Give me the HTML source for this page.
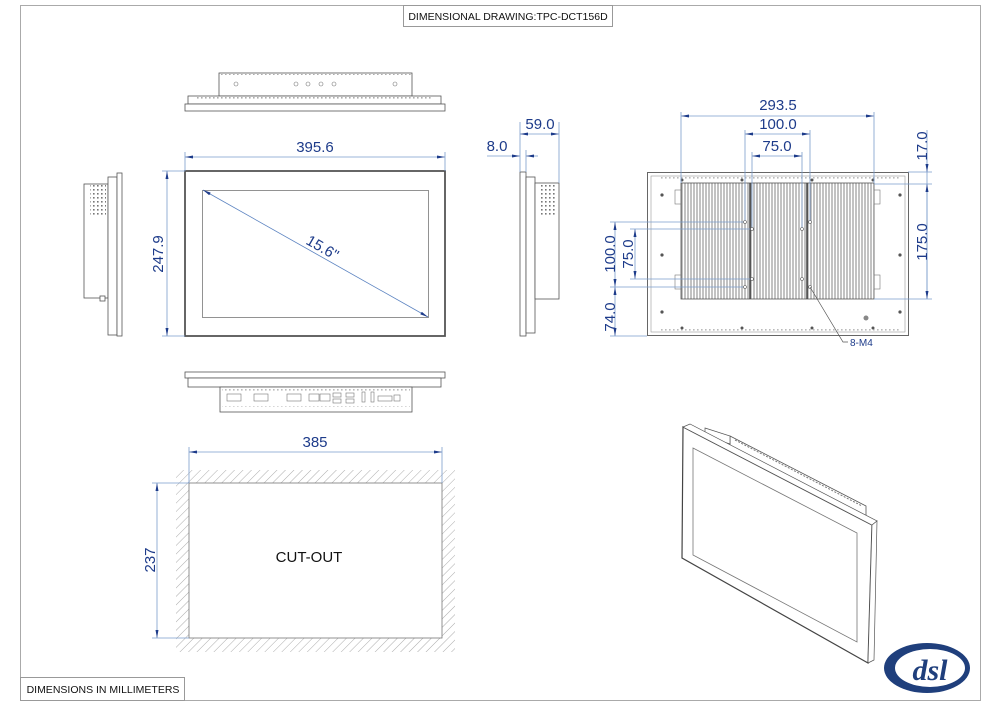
<!DOCTYPE html>
<html><head><meta charset="utf-8"><style>
html,body{margin:0;padding:0;background:#fff;}
svg{display:block;font-family:"Liberation Sans",sans-serif;}
.d{stroke:#7a9ccc;stroke-width:0.8;fill:none}
.t{fill:#1d3b8a;font-size:15px}
.k{stroke:#555;stroke-width:0.8;fill:#fff}
.g{stroke:#777;stroke-width:0.6;fill:none}
</style></head><body>
<svg width="1000" height="707" viewBox="0 0 1000 707" xmlns="http://www.w3.org/2000/svg">
<defs>
<pattern id="fin" width="3" height="10" patternUnits="userSpaceOnUse"><rect width="3" height="10" fill="#fff"/><line x1="1" y1="0" x2="1" y2="10" stroke="#666" stroke-width="0.8"/></pattern>
<pattern id="hat" width="6" height="6" patternUnits="userSpaceOnUse" patternTransform="rotate(45)"><line x1="0" y1="0" x2="0" y2="6" stroke="#888" stroke-width="0.7"/></pattern>
<pattern id="vent" width="4" height="4" patternUnits="userSpaceOnUse"><rect x="1" y="1" width="1.6" height="1.6" fill="#777"/></pattern>
<marker id="a" markerWidth="8" markerHeight="6" refX="8" refY="3" orient="auto-start-reverse" markerUnits="userSpaceOnUse"><path d="M0,1.5 L8,3 L0,4.5z" fill="#1d3b8a"/></marker>
</defs>
<rect x="20.5" y="5.5" width="960" height="695" fill="none" stroke="#aaa" stroke-width="1"/>
<rect x="403.5" y="5.5" width="209" height="21" fill="#fff" stroke="#999"/>
<text x="508" y="20" font-size="10.5" text-anchor="middle" fill="#111">DIMENSIONAL DRAWING:TPC-DCT156D</text>
<rect x="20.5" y="677.5" width="164" height="23" fill="#fff" stroke="#999"/>
<text x="103" y="693" font-size="10.5" text-anchor="middle" fill="#111">DIMENSIONS IN MILLIMETERS</text>

<!-- top view -->
<rect class="k" x="219" y="73" width="193" height="23"/>
<rect x="220" y="74" width="191" height="3" fill="url(#vent)"/>
<rect class="k" x="188" y="96" width="253" height="8"/>
<rect class="k" x="185" y="104" width="260" height="7"/>
<g class="g"><circle cx="236" cy="84" r="2"/><circle cx="296" cy="84" r="2"/><circle cx="308" cy="84" r="2"/><circle cx="321" cy="84" r="2"/><circle cx="334" cy="84" r="2"/><circle cx="395" cy="84" r="2"/></g>
<rect x="195" y="97" width="236" height="3" fill="url(#vent)" opacity=".6"/>

<!-- front view -->
<rect x="185" y="171" width="260" height="165" fill="#fff" stroke="#555" stroke-width="1.8"/>
<rect x="202.5" y="190.5" width="226" height="127" fill="none" stroke="#777" stroke-width="0.8"/>
<line x1="203" y1="190" x2="428" y2="317" stroke="#5a82c0" stroke-width="0.8" marker-start="url(#a)" marker-end="url(#a)"/>
<text class="t" x="0" y="0" text-anchor="middle" transform="translate(320,252) rotate(30)">15.6"</text>
<line class="d" x1="185" y1="171" x2="185" y2="152"/><line class="d" x1="445" y1="171" x2="445" y2="152"/>
<line class="d" x1="185" y1="157" x2="445" y2="157" marker-start="url(#a)" marker-end="url(#a)"/>
<text class="t" x="315" y="152" text-anchor="middle">395.6</text>
<line class="d" x1="185" y1="171" x2="162" y2="171"/><line class="d" x1="185" y1="336" x2="162" y2="336"/>
<line class="d" x1="167" y1="171" x2="167" y2="336" marker-start="url(#a)" marker-end="url(#a)"/>
<text class="t" text-anchor="middle" transform="translate(163,254) rotate(-90)">247.9</text>

<!-- left side -->
<rect class="k" x="84" y="184" width="24" height="114"/>
<rect x="90" y="185" width="16" height="30" fill="url(#vent)"/>
<rect class="k" x="108" y="177" width="9" height="158"/>
<rect class="k" x="117" y="173" width="5" height="163"/>
<rect class="k" x="100" y="296" width="5" height="5"/>

<!-- bottom view -->
<rect class="k" x="185" y="372" width="260" height="6"/>
<rect class="k" x="188" y="378" width="253" height="9"/>
<rect class="k" x="220" y="387" width="192" height="25"/>
<g class="g"><rect x="227" y="394" width="14" height="7"/><rect x="254" y="394" width="14" height="7"/><rect x="287" y="394" width="14" height="7"/><rect x="309" y="394" width="10" height="7"/><rect x="320" y="394" width="10" height="7"/><rect x="333" y="393" width="8" height="4"/><rect x="333" y="399" width="8" height="4"/><rect x="346" y="393" width="8" height="4"/><rect x="346" y="399" width="8" height="4"/><rect x="362" y="392" width="3" height="10"/><rect x="371" y="392" width="3" height="10"/><rect x="378" y="396" width="14" height="5"/><rect x="394" y="395" width="6" height="6"/></g>
<rect x="222" y="389" width="188" height="3" fill="url(#vent)" opacity=".5"/>
<rect x="222" y="406" width="188" height="3" fill="url(#vent)" opacity=".5"/>

<!-- right side -->
<rect class="k" x="520" y="172" width="6" height="164"/>
<rect class="k" x="526" y="177" width="9" height="156"/>
<rect class="k" x="535" y="183" width="24" height="116"/>
<rect x="539" y="185" width="16" height="30" fill="url(#vent)"/>
<line class="d" x1="520" y1="172" x2="520" y2="122"/><line class="d" x1="559" y1="183" x2="559" y2="122"/><line class="d" x1="526" y1="172" x2="526" y2="150"/>
<line class="d" x1="520" y1="134" x2="559" y2="134" marker-start="url(#a)" marker-end="url(#a)"/>
<text class="t" x="540" y="129" text-anchor="middle">59.0</text>
<line class="d" x1="487" y1="156" x2="520" y2="156" marker-end="url(#a)"/>
<line class="d" x1="538" y1="156" x2="526" y2="156" marker-end="url(#a)"/>
<text class="t" x="497" y="151" text-anchor="middle">8.0</text>

<!-- back view -->
<rect x="647.5" y="172.5" width="261" height="163" fill="#fff" stroke="#666" stroke-width="1"/>
<rect x="651" y="176" width="254" height="156" fill="none" stroke="#999" stroke-width="0.6"/>
<rect x="681" y="183" width="193" height="116" fill="url(#fin)" stroke="#555" stroke-width="0.8"/>
<line x1="750" y1="183" x2="750" y2="299" stroke="#444" stroke-width="1.5"/>
<line x1="807" y1="183" x2="807" y2="299" stroke="#444" stroke-width="1.5"/>
<g fill="#555"><circle cx="662" cy="195" r="1.6"/><circle cx="662" cy="255" r="1.6"/><circle cx="662" cy="312" r="1.6"/><circle cx="900" cy="195" r="1.6"/><circle cx="900" cy="255" r="1.6"/><circle cx="900" cy="312" r="1.6"/><circle cx="682" cy="180" r="1.5"/><circle cx="742" cy="180" r="1.5"/><circle cx="812" cy="180" r="1.5"/><circle cx="873" cy="180" r="1.5"/><circle cx="682" cy="328" r="1.5"/><circle cx="742" cy="328" r="1.5"/><circle cx="812" cy="328" r="1.5"/><circle cx="873" cy="328" r="1.5"/><circle cx="866" cy="318" r="2.5" fill="#888"/></g>
<g class="g"><rect x="675" y="190" width="6" height="14"/><rect x="874" y="190" width="6" height="14"/><rect x="675" y="275" width="6" height="14"/><rect x="874" y="275" width="6" height="14"/></g>
<rect x="660" y="177" width="240" height="3" fill="url(#vent)" opacity=".5"/>
<rect x="660" y="328" width="240" height="3" fill="url(#vent)" opacity=".5"/>
<!-- dims back -->
<line class="d" x1="681" y1="183" x2="681" y2="112"/><line class="d" x1="874" y1="183" x2="874" y2="112"/>
<line class="d" x1="681" y1="116" x2="874" y2="116" marker-start="url(#a)" marker-end="url(#a)"/>
<text class="t" x="778" y="110" text-anchor="middle">293.5</text>
<line class="d" x1="745" y1="222" x2="745" y2="130"/><line class="d" x1="810" y1="222" x2="810" y2="130"/>
<line class="d" x1="745" y1="134" x2="810" y2="134" marker-start="url(#a)" marker-end="url(#a)"/>
<text class="t" x="778" y="129" text-anchor="middle">100.0</text>
<line class="d" x1="752" y1="229" x2="752" y2="152"/><line class="d" x1="802" y1="229" x2="802" y2="152"/>
<line class="d" x1="752" y1="156" x2="802" y2="156" marker-start="url(#a)" marker-end="url(#a)"/>
<text class="t" x="777" y="151" text-anchor="middle">75.0</text>
<line class="d" x1="908" y1="172" x2="932" y2="172"/><line class="d" x1="874" y1="184" x2="932" y2="184"/><line class="d" x1="874" y1="299" x2="932" y2="299"/>
<line class="d" x1="927" y1="130" x2="927" y2="299" />
<line class="d" x1="927" y1="150" x2="927" y2="172" marker-end="url(#a)"/>
<line class="d" x1="927" y1="184" x2="927" y2="299" marker-start="url(#a)" marker-end="url(#a)"/>
<text class="t" text-anchor="middle" transform="translate(927,146) rotate(-90)">17.0</text>
<text class="t" text-anchor="middle" transform="translate(927,242) rotate(-90)">175.0</text>
<line class="d" x1="610" y1="222" x2="745" y2="222"/><line class="d" x1="630" y1="229" x2="752" y2="229"/><line class="d" x1="630" y1="279" x2="752" y2="279"/><line class="d" x1="610" y1="287" x2="745" y2="287"/><line class="d" x1="610" y1="336" x2="647" y2="336"/>
<line class="d" x1="615" y1="222" x2="615" y2="287" marker-start="url(#a)" marker-end="url(#a)"/>
<line class="d" x1="635" y1="229" x2="635" y2="279" marker-start="url(#a)" marker-end="url(#a)"/>
<line class="d" x1="615" y1="287" x2="615" y2="336" marker-start="url(#a)" marker-end="url(#a)"/>
<text class="t" text-anchor="middle" transform="translate(615,254) rotate(-90)">100.0</text>
<text class="t" text-anchor="middle" transform="translate(633,254) rotate(-90)">75.0</text>
<text class="t" text-anchor="middle" transform="translate(615,317) rotate(-90)">74.0</text>
<g fill="#fff" stroke="#555" stroke-width=".6"><circle cx="745" cy="222" r="1.5"/><circle cx="810" cy="222" r="1.5"/><circle cx="752" cy="229" r="1.5"/><circle cx="802" cy="229" r="1.5"/><circle cx="752" cy="279" r="1.5"/><circle cx="802" cy="279" r="1.5"/><circle cx="745" cy="287" r="1.5"/><circle cx="810" cy="287" r="1.5"/></g>
<polyline points="810,287 843,342 848,342" fill="none" stroke="#555" stroke-width="0.7"/>
<text x="850" y="346" font-size="10" fill="#1d3b8a">8-M4</text>

<!-- cutout -->
<rect x="176" y="470" width="279" height="182" fill="url(#hat)"/>
<rect x="189" y="483" width="253" height="155" fill="#fff" stroke="#777" stroke-width="0.8"/>
<text x="309" y="562" font-size="15" text-anchor="middle" fill="#111">CUT-OUT</text>
<line class="d" x1="189" y1="483" x2="189" y2="447"/><line class="d" x1="442" y1="483" x2="442" y2="447"/>
<line class="d" x1="189" y1="452" x2="442" y2="452" marker-start="url(#a)" marker-end="url(#a)"/>
<text class="t" x="315" y="447" text-anchor="middle">385</text>
<line class="d" x1="152" y1="483" x2="189" y2="483"/><line class="d" x1="152" y1="638" x2="189" y2="638"/>
<line class="d" x1="157" y1="483" x2="157" y2="638" marker-start="url(#a)" marker-end="url(#a)"/>
<text class="t" text-anchor="middle" transform="translate(155,560) rotate(-90)">237</text>

<!-- iso view -->
<polygon points="730,436 866,506 866,520 730,450" fill="#fff" stroke="#555" stroke-width="0.8"/>
<polygon points="705,428 730,436 730,444 705,436" fill="#fff" stroke="#555" stroke-width="0.7"/>
<line x1="735" y1="440" x2="862" y2="506" stroke="#777" stroke-dasharray="2,1.5" stroke-width="1"/>
<polygon points="683,427 872,525 868,663 682,558" fill="#fff" stroke="#444" stroke-width="1.2"/>
<polygon points="683,427 690,424 877,521 872,525" fill="#fff" stroke="#555" stroke-width="0.7"/>
<polygon points="872,525 877,521 874,660 868,663" fill="#fff" stroke="#555" stroke-width="0.7"/>
<polygon points="693,448 857,533 857,642 693,555" fill="none" stroke="#777" stroke-width="0.8"/>

<!-- logo -->
<ellipse cx="927" cy="668" rx="43" ry="25" fill="#1f3f7c"/>
<ellipse cx="930" cy="668" rx="35" ry="19" fill="#fff"/>
<text x="930" y="680" font-size="30" font-style="italic" font-weight="bold" text-anchor="middle" fill="#1f3f7c" font-family="Liberation Serif, serif">dsl</text>
</svg>
</body></html>
